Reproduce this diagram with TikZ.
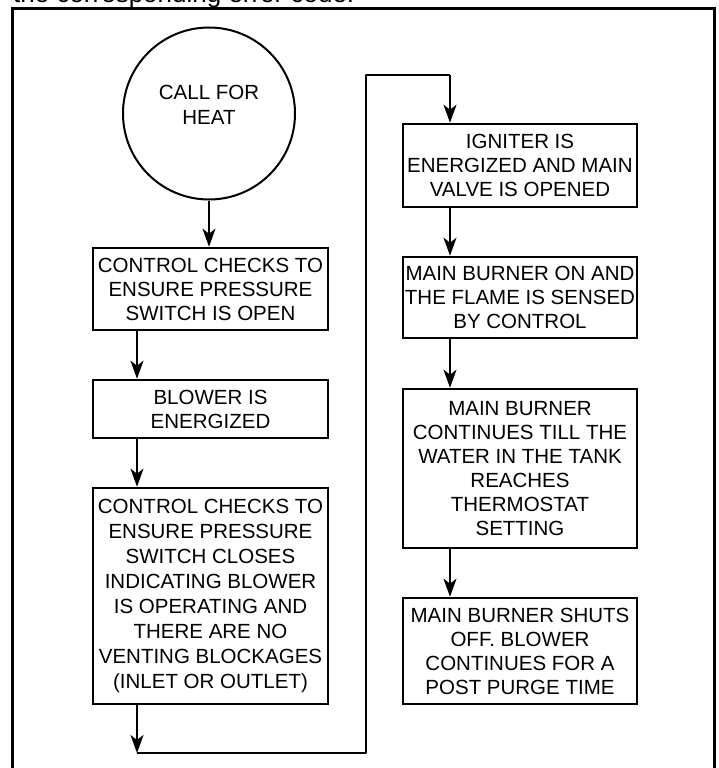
\documentclass[tikz,border=0pt]{standalone}
\usepackage{fontspec}
\setmainfont{Liberation Sans}
\usetikzlibrary{arrows.meta}
\newcommand\bxfont{\fontsize{20.5}{24}\selectfont}
\newcommand\bxfontwide{\fontsize{20.5}{25}\selectfont}
\tikzset{
  box/.style={draw, line width=2.6pt, minimum width=235pt, inner sep=0pt, align=center, font=\bxfont},
  circ/.style={draw, circle, line width=2pt, minimum size=172pt, inner sep=0pt},
  lbl/.style={align=center, inner sep=0pt, font=\bxfontwide},
  arr/.style={line width=2pt, -{Stealth[length=18pt,width=13pt,inset=5pt]}},
  conn/.style={line width=2pt, line join=round},
  frame/.style={line width=3pt, line join=miter},
}
\begin{document}
\begin{tikzpicture}[x=1pt,y=-1pt]
\useasboundingbox (0,0) rectangle (718,768);
\clip (0,0) rectangle (718,768);
% cut-off caption line at the top
\node[anchor=base west, inner sep=0pt, font=\fontsize{26}{30}\selectfont] (caption) at (13,3) {the corresponding error code.};
% frame
\coordinate (fbl) at (12.5,780);
\coordinate (ftl) at (12.5,9);
\coordinate (ftr) at (714,9);
\coordinate (fbr) at (714,780);
\draw[frame] (fbl) -- (ftl) -- (ftr) -- (fbr);
% left column
\node[circ] (start) at (209,113.5) {};
\node[lbl] (starttext) at (209,105) {CALL FOR\\HEAT};
\node[box, minimum height=82pt] (b1) at (210.5,289) {CONTROL CHECKS TO\\ENSURE PRESSURE\\SWITCH IS OPEN};
\node[box, minimum height=58pt] (b2) at (210.5,409) {BLOWER IS\\ENERGIZED};
\node[box, minimum height=216pt, font=\bxfontwide] (b3) at (210.5,596) {CONTROL CHECKS TO\\ENSURE PRESSURE\\SWITCH CLOSES\\INDICATING BLOWER\\IS OPERATING AND\\THERE ARE NO\\VENTING BLOCKAGES\\(INLET OR OUTLET)};
% right column
\node[box, minimum height=83pt, minimum width=234pt] (b4) at (520,165.5) {IGNITER IS\\ENERGIZED AND MAIN\\VALVE IS OPENED};
\node[box, minimum height=81pt, minimum width=234pt] (b5) at (520,297.5) {MAIN BURNER ON AND\\THE FLAME IS SENSED\\BY CONTROL};
\node[box, minimum height=159pt, minimum width=234pt] (b6) at (520,468.5) {MAIN BURNER\\CONTINUES TILL THE\\WATER IN THE TANK\\REACHES\\THERMOSTAT\\SETTING};
\node[box, minimum height=106pt, minimum width=234pt] (b7) at (520,651) {MAIN BURNER SHUTS\\OFF. BLOWER\\CONTINUES FOR A\\POST PURGE TIME};
% connector guide coordinates
\coordinate (lx) at (137,0);
\coordinate (rx) at (450,0);
\coordinate (c1) at (137,753);
\coordinate (c2) at (366,753);
\coordinate (c3) at (366,75);
\coordinate (c4) at (450,75);
% connectors
\draw[arr] (start.south) -- (start.south |- b1.north);
\draw[arr] (lx |- b1.south) -- (lx |- b2.north);
\draw[arr] (lx |- b2.south) -- (lx |- b3.north);
\draw[arr] (lx |- b3.south) -- (c1);
\draw[conn] (c1) -- (c2) -- (c3) -- (c4);
\draw[arr] (c4) -- (rx |- b4.north);
\draw[arr] (rx |- b4.south) -- (rx |- b5.north);
\draw[arr] (rx |- b5.south) -- (rx |- b6.north);
\draw[arr] (rx |- b6.south) -- (rx |- b7.north);
\end{tikzpicture}
\end{document}
